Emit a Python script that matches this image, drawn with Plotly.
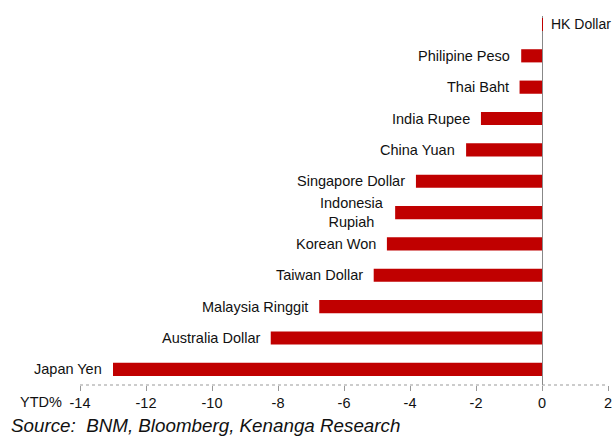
import plotly.graph_objects as go

currencies = ["Japan Yen", "Australia Dollar", "Malaysia Ringgit", "Taiwan Dollar",
              "Korean Won", "Indonesia<br>Rupiah", "Singapore Dollar", "China Yuan",
              "India Rupee", "Thai Baht", "Philipine Peso", "HK Dollar"]
ytd_pct = [-13.0, -8.22, -6.75, -5.1, -4.7, -4.45, -3.82, -2.3, -1.85, -0.68, -0.63, 0.03]
tick_vals = [-14, -12, -10, -8, -6, -4, -2, 0, 2]

FONT = "Liberation Sans, Arial, sans-serif"
RED = "#C00000"

fig = go.Figure()
fig.add_trace(go.Bar(
    x=ytd_pct, y=currencies, orientation="h",
    marker=dict(color=RED, line=dict(width=0)),
    width=0.42, hoverinfo="x+y",
))

for c, v in zip(currencies, ytd_pct):
    fig.add_annotation(
        x=v, y=c, text=c, showarrow=False,
        xanchor="left" if v > 0 else "right",
        xshift=6 if v > 0 else -9,
        align="center",
        font=dict(family=FONT, size=14.5 if v < 0 else 14, color="#111"),
    )

# dotted bottom axis line
fig.add_shape(type="line", xref="paper", yref="paper", x0=0, x1=1, y0=0, y1=0,
              line=dict(color="#999", width=1, dash="dot"))

fig.add_annotation(xref="paper", yref="paper", x=-0.03, y=0, yshift=-17,
                   xanchor="right", yanchor="middle", text="YTD%", showarrow=False,
                   font=dict(family=FONT, size=14.5, color="#111"))
fig.add_annotation(xref="paper", yref="paper", x=-0.1345, y=0, yshift=-40,
                   xanchor="left", yanchor="middle",
                   text="<i>Source:  BNM, Bloomberg, Kenanga Research</i>", showarrow=False,
                   font=dict(family=FONT, size=18.8, color="#111"))

fig.update_layout(
    width=615, height=438,
    margin=dict(l=80, r=7, t=16, b=53, autoexpand=False),
    paper_bgcolor="white", plot_bgcolor="white",
    showlegend=False,
    bargap=0.5,
    xaxis=dict(range=[-14, 2], tickvals=tick_vals, ticktext=[str(t) for t in tick_vals],
               automargin=False,
               showgrid=False, zeroline=True, zerolinecolor="#888", zerolinewidth=1,
               showline=False, ticks="outside", ticklen=5, tickcolor="#999",
               tickfont=dict(family=FONT, size=14.5, color="#111")),
    yaxis=dict(range=[-0.5, 11.27], showticklabels=False, showgrid=False, automargin=False,
               zeroline=False, showline=False, ticks=""),
)

fig.write_html("out.html")
